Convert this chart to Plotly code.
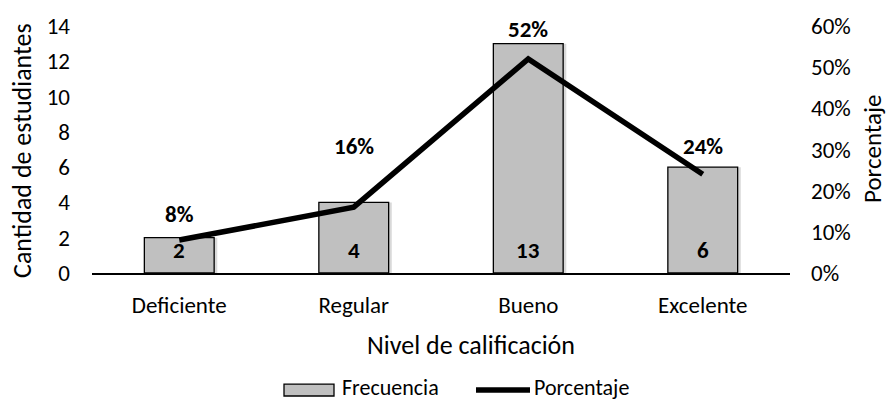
import plotly.graph_objects as go

categories = ["Deficiente", "Regular", "Bueno", "Excelente"]
frecuencia = [2, 4, 13, 6]
porcentaje = [0.08, 0.16, 0.52, 0.24]
pct_labels = ["8%", "16%", "52%", "24%"]
pct_label_shift = [26, 61, 30, 28]

FONT = "Carlito, Calibri, Lato, sans-serif"
TICK = 23
TITLE = 26
LEG = 22
W, H = 889, 401
L, R, T, B = 92, 99, 24, 128
pw, ph = W - L - R, H - T - B

def px(x):
    return (x - L) / pw

def py(y):
    return (H - B - y) / ph

fig = go.Figure()

# subtle shadow
fig.add_trace(go.Bar(
    x=categories, y=frecuencia, width=0.4, offset=-0.2 + 0.018,
    marker=dict(color="rgba(0,0,0,0.15)", line=dict(width=0)),
    showlegend=False, hoverinfo="skip", yaxis="y"))

fig.add_trace(go.Bar(
    x=categories, y=frecuencia, width=0.4, offset=-0.2, name="Frecuencia",
    marker=dict(color="#C0C0C0", line=dict(color="black", width=1.3)),
    showlegend=False, yaxis="y"))

fig.add_trace(go.Scatter(
    x=categories, y=porcentaje, mode="lines", name="Porcentaje",
    line=dict(color="black", width=5.5), yaxis="y2", showlegend=False))

for c, v in zip(categories, frecuencia):
    fig.add_annotation(x=c, y=0, yref="y", text=f"<b>{v}</b>", showarrow=False,
                       yshift=23, xanchor="center", yanchor="middle",
                       font=dict(family=FONT, size=TICK, color="black"))

for c, v, t, s in zip(categories, porcentaje, pct_labels, pct_label_shift):
    fig.add_annotation(x=c, y=v, yref="y2", text=f"<b>{t}</b>", showarrow=False,
                       yshift=s, xanchor="center", yanchor="middle",
                       font=dict(family=FONT, size=TICK, color="black"))

# axis titles
fig.add_annotation(x=px(22), y=py(150), xref="paper", yref="paper",
                   text="Cantidad de estudiantes", textangle=-90, showarrow=False,
                   xanchor="center", yanchor="middle",
                   font=dict(family=FONT, size=TITLE, color="black"))
fig.add_annotation(x=px(872), y=py(148), xref="paper", yref="paper",
                   text="Porcentaje", textangle=-90, showarrow=False,
                   xanchor="center", yanchor="middle",
                   font=dict(family=FONT, size=25, color="black"))
fig.add_annotation(x=px(471), y=py(346), xref="paper", yref="paper",
                   text="Nivel de calificación", showarrow=False,
                   xanchor="center", yanchor="middle",
                   font=dict(family=FONT, size=TITLE, color="black"))

# custom legend
fig.add_shape(type="rect", xref="paper", yref="paper",
              x0=px(284), x1=px(334), y0=py(385), y1=py(397),
              fillcolor="#C0C0C0", line=dict(color="black", width=1.3))
fig.add_annotation(x=px(340), y=py(388), xref="paper", yref="paper",
                   text="Frecuencia", showarrow=False, xanchor="left", yanchor="middle",
                   font=dict(family=FONT, size=LEG, color="black"))
fig.add_shape(type="line", xref="paper", yref="paper",
              x0=px(476), x1=px(530), y0=py(391), y1=py(391),
              line=dict(color="black", width=5.5))
fig.add_annotation(x=px(532), y=py(388), xref="paper", yref="paper",
                   text="Porcentaje", showarrow=False, xanchor="left", yanchor="middle",
                   font=dict(family=FONT, size=LEG, color="black"))

fig.update_layout(
    width=W, height=H,
    margin=dict(l=L, r=R, t=T, b=B, pad=0),
    paper_bgcolor="white", plot_bgcolor="white",
    barmode="overlay",
    font=dict(family=FONT, size=TICK, color="black"),
    xaxis=dict(showline=True, linecolor="black", linewidth=1.5, ticks="",
               showgrid=False, tickfont=dict(size=TICK), ticklabelstandoff=11),
    yaxis=dict(range=[0, 14], dtick=2, showline=False, showgrid=False,
               zeroline=False, ticks="", tickfont=dict(size=TICK), ticklabelstandoff=21),
    yaxis2=dict(range=[0, 0.6], dtick=0.1, tickformat=".0%", overlaying="y",
                side="right", showline=False, showgrid=False, zeroline=False,
                ticks="", tickfont=dict(size=TICK), ticklabelstandoff=20),
)

fig.write_html("out.html")
